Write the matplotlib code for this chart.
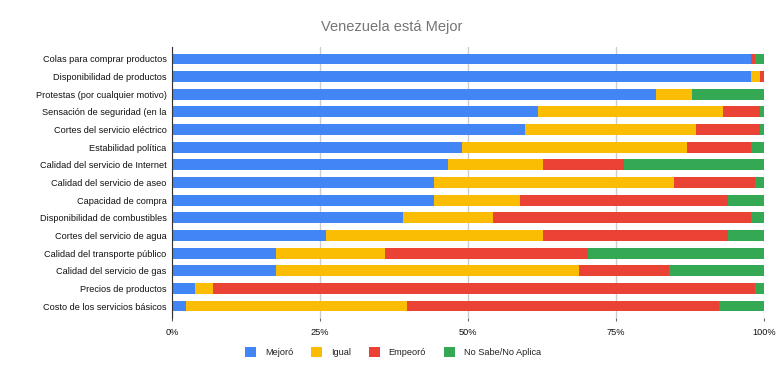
import numpy as np
import matplotlib.pyplot as plt

# Data (percent of responses)

categories = [
    "Colas para comprar productos",
    "Disponibilidad de productos",
    "Protestas (por cualquier motivo)",
    "Sensación de seguridad (en la",
    "Cortes del servicio eléctrico",
    "Estabilidad política",
    "Calidad del servicio de Internet",
    "Calidad del servicio de aseo",
    "Capacidad de compra",
    "Disponibilidad de combustibles",
    "Cortes del servicio de agua",
    "Calidad del transporte público",
    "Calidad del servicio de gas",
    "Precios de productos",
    "Costo de los servicios básicos",
]

mejoro = [97.8, 97.8, 81.8, 61.8, 59.6, 49.0, 46.6, 44.3, 44.3, 39.0, 26.0, 17.6, 17.6, 3.9, 2.4]
igual = [0.0, 1.5, 6.0, 31.3, 28.9, 38.0, 16.1, 40.5, 14.5, 15.2, 36.7, 18.4, 51.2, 3.0, 37.3]
empeoro = [0.7, 0.7, 0.0, 6.2, 10.8, 10.8, 13.7, 13.7, 35.1, 43.6, 31.2, 34.3, 15.2, 91.6, 52.7]
no_sabe = [1.5, 0.0, 12.2, 0.7, 0.7, 2.2, 23.6, 1.5, 6.1, 2.2, 6.1, 29.7, 16.0, 1.5, 7.6]

series_names = ["Mejoró", "Igual", "Empeoró", "No Sabe/No Aplica"]
colors = ["#4285F4", "#FBBC04", "#EA4335", "#34A853"]

plt.rcParams["font.family"] = ["Liberation Sans", "DejaVu Sans"]

fig = plt.figure(figsize=(7.83, 3.77), dpi=100)
ax = fig.add_axes([172 / 783, 1 - 318 / 377, 592 / 783, 271 / 377])

y = np.arange(len(categories))
left = np.zeros(len(categories))
handles = []
for name, vals, c in zip(series_names, [mejoro, igual, empeoro, no_sabe], colors):
    vals = np.array(vals)
    h = ax.barh(y, vals, left=left, height=0.62, color=c, label=name, zorder=3)
    handles.append(h)
    left = left + vals

ax.set_xlim(0, 100)
ax.set_ylim(len(categories) - 0.32, -0.68)
ax.set_yticks(y)
ax.set_yticklabels(categories, fontsize=6.6, color="#111111")
ax.set_xticks([0, 25, 50, 75, 100])
ax.set_xticklabels(["0%", "25%", "50%", "75%", "100%"], fontsize=6.6, color="#111111")
ax.tick_params(axis="y", length=0, pad=4)
ax.tick_params(axis="x", length=2, color="#666666", pad=5)
ax.grid(axis="x", color="#cccccc", linewidth=1, zorder=0)

for s in ["top", "right", "bottom"]:
    ax.spines[s].set_visible(False)
ax.spines["left"].set_color("#333333")
ax.spines["left"].set_zorder(4)

fig.text(0.5, 1 - 27 / 377, "Venezuela está Mejor", ha="center", va="center",
         fontsize=10.5, color="#757575")

fig.legend(handles=handles, labels=series_names, loc="center",
           bbox_to_anchor=(393 / 783, 1 - 352 / 377), ncol=4, frameon=False,
           fontsize=6.6, handlelength=1.2, handleheight=1.2,
           handletextpad=1.0, columnspacing=1.9, labelcolor="#222222")

fig.savefig("out.png", dpi=100)
